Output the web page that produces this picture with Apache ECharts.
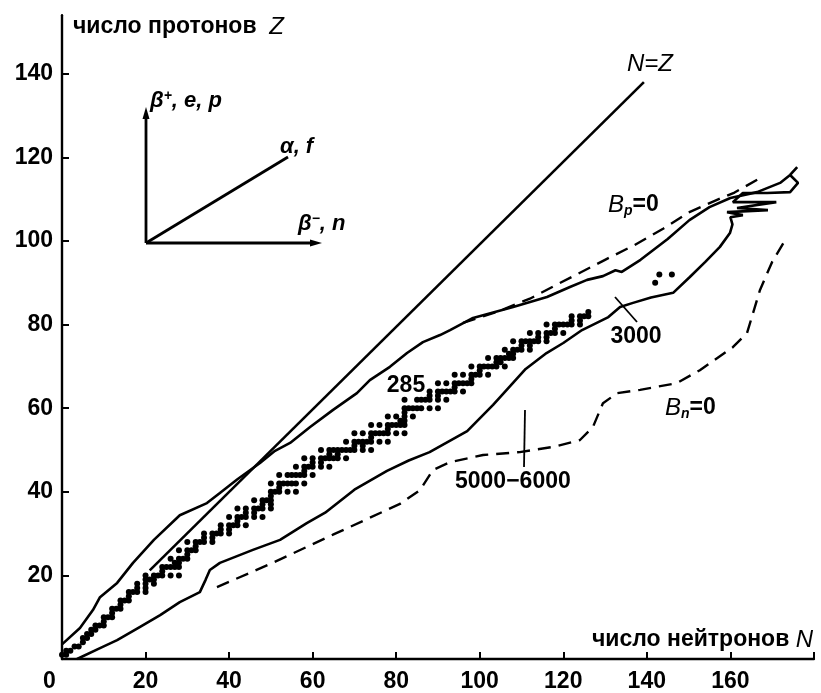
<!DOCTYPE html>
<html>
<head>
<meta charset="utf-8">
<script src="https://cdn.jsdelivr.net/npm/echarts@6/dist/echarts.min.js"></script>
<style>
html,body{margin:0;padding:0;background:#fff;}
#chart{width:821px;height:693px;}
</style>
</head>
<body>
<div id="chart"></div>
<script>
// ---- data (N = neutron number, Z = proton number) ----
const xTickValues = [20, 40, 60, 80, 100, 120, 140, 160];
const yTickValues = [20, 40, 60, 80, 100, 120, 140];

// Upper solid boundary of known nuclides (proton-rich side)
const upperBoundary = [[0,3.5],[4.3,7.4],[7.4,11.7],[9.1,14.8],[13.2,18.2],[17,23],[22,28.5],[28.2,34.4],[34.7,37.3],[37.8,39.7],[42,43],[47.4,46.9],[51,49.8],[54.6,51.7],[59.4,55.5],[64.9,59.6],[70.6,63.6],[73.7,66.7],[78.5,69.9],[82.6,73.2],[86.4,75.8],[90.5,77.5],[92.9,78.7],[98.4,81.6],[108,84.2],[116.1,86.6],[121.6,89],[125.7,90.7],[129.5,91.6],[132.5,93],[134,92.6],[138.5,95.5],[145,100.5],[150.2,105],[155,108.1],[160,110.3],[166.4,111.7],[171.9,113.9],[174.3,115.8],[176,117.7]];

// Lower solid boundary of known nuclides (neutron-rich side, "3000")
const lowerBoundary = [[3.6,0],[9.1,2.6],[13.2,4.5],[18.7,7.7],[23.5,10.5],[28.2,13.6],[33,16],[34.4,19],[35.4,21.3],[37.8,23],[45.7,26.1],[52.2,28.5],[58.6,32.5],[63,35],[70,40.5],[77.8,45],[83,47.5],[88,49.5],[97,54.5],[103.2,60.8],[107,65],[111,69.4],[116,73.2],[120,75.6],[124.5,78.7],[130.8,81.8],[133.6,84.2],[136.7,85.2],[141,86.5],[146.3,87.6],[150.3,91.4],[154,95],[157.5,98.6],[159.9,101.9],[160.5,104],[160,105.7],[163,106.2],[159.2,106.9],[169,107.4],[161.6,107.9],[171,109.3],[160.6,109.3],[163,111.5],[168.8,111.5],[174.3,111.7],[176.2,113.9],[174.3,115.8]];

// N = Z line
const nEqualsZ = [[21,21.2],[139.3,138]];

// Proton drip line B_p = 0 (dashed)
const protonDrip = [[96,80.4],[104,83],[112,86.2],[118.5,89.6],[123.2,92],[130,95.5],[137,99],[144,103],[150.2,106.9],[156,109.5],[161,111.6],[167,115]];

// Neutron drip line B_n = 0 (dashed)
const neutronDrip = [[37.1,17.2],[50,22.8],[65,29.8],[80.9,37.1],[85.7,40.4],[88.8,45.2],[92.9,47.1],[100.8,48.8],[109.6,49.5],[118,50.8],[124,52.4],[127.1,55.5],[129.5,61.2],[132.9,63.6],[138.4,64.4],[147.2,66],[152.7,69.1],[160.6,74.6],[164,78],[167.1,88.3],[170,95],[173.6,101]];

// Stable nuclides: [Z, list of N]
const stableNuclides = [
 [1,[0,1]],[2,[1,2]],[3,[3,4]],[4,[5]],[5,[5,6]],[6,[6,7]],[7,[7,8]],[8,[8,9,10]],[9,[10]],[10,[10,11,12]],
 [11,[12]],[12,[12,13,14]],[13,[14]],[14,[14,15,16]],[15,[16]],[16,[16,17,18,20]],[17,[18,20]],[18,[18,20,22]],
 [19,[20,21,22]],[20,[20,22,23,24,26,28]],[21,[24]],[22,[24,25,26,27,28]],[23,[27,28]],[24,[26,28,29,30]],
 [25,[30]],[26,[28,30,31,32]],[27,[32]],[28,[30,32,33,34,36]],[29,[34,36]],[30,[34,36,37,38,40]],[31,[38,40]],
 [32,[38,40,41,42,44]],[33,[42]],[34,[40,42,43,44,46,48]],[35,[44,46]],[36,[42,44,46,47,48,50]],[37,[48,50]],
 [38,[46,48,49,50]],[39,[50]],[40,[50,51,52,54,56]],[41,[52]],[42,[50,52,53,54,55,56,58]],[44,[52,54,55,56,57,58,60]],
 [45,[58]],[46,[56,58,59,60,62,64]],[47,[60,62]],[48,[58,60,62,63,64,65,66,68]],[49,[64,66]],
 [50,[62,64,65,66,67,68,69,70,72,74]],[51,[70,72]],[52,[68,70,71,72,73,74,76,78]],[53,[74]],
 [54,[70,72,74,75,76,77,78,80,82]],[55,[78]],[56,[74,76,78,79,80,81,82]],[57,[81,82]],[58,[78,80,82,84]],
 [59,[82]],[60,[82,83,84,85,86,88,90]],[62,[82,85,86,87,88,90,92]],[63,[88,90]],[64,[88,90,91,92,93,94,96]],
 [65,[94]],[66,[90,92,94,95,96,97,98]],[67,[98]],[68,[94,96,98,99,100,102]],[69,[100]],
 [70,[98,100,101,102,103,104,106]],[71,[104,105]],[72,[102,104,105,106,107,108]],[73,[107,108]],
 [74,[106,108,109,110,112]],[75,[110,112]],[76,[108,110,111,112,113,114,116]],[77,[114,116]],
 [78,[112,114,116,117,118,120]],[79,[118]],[80,[116,118,119,120,121,122,124]],[81,[122,124]],
 [82,[122,124,125,126]],[83,[126]],[90,[142]],[92,[143,146]]
];

// ---- build ----
const stablePoints = [];
stableNuclides.forEach(function (row) {
  row[1].forEach(function (n) { stablePoints.push([n, row[0]]); });
});

const FONT = "'Liberation Sans', Arial, Helvetica, sans-serif";
const INK = '#000';
const chart = echarts.init(document.getElementById('chart'), null, {renderer: 'canvas'});

function solid(name, data) {
  return {name: name, type: 'line', data: data, showSymbol: false, symbol: 'none', silent: true,
    lineStyle: {color: INK, width: 2.6}, z: 3};
}
function dashed(name, data) {
  return {name: name, type: 'line', data: data, showSymbol: false, symbol: 'none', silent: true,
    lineStyle: {color: INK, width: 2.4, type: [13, 8]}, z: 3};
}
function txt(x, y, text, rich, align, valign) {
  return {type: 'text', x: x, y: y, silent: true,
    style: {text: text, rich: rich || {}, fill: INK, font: 'bold 23px ' + FONT,
      align: align || 'left', verticalAlign: valign || 'middle'}};
}
function seg(x1, y1, x2, y2, w) {
  return {type: 'line', silent: true, shape: {x1: x1, y1: y1, x2: x2, y2: y2},
    style: {stroke: INK, lineWidth: w || 2.8}};
}

const it = {font: 'italic 24px ' + FONT, fill: INK};
const up = {font: 'bold 23px ' + FONT, fill: INK};
const sub = {font: 'italic bold 14px ' + FONT, fill: INK, verticalAlign: 'bottom', padding: [12, 0, 0, 0]};
const itS = {font: 'italic bold 22px ' + FONT, fill: INK};
const sup = {font: 'italic bold 14px ' + FONT, fill: INK, verticalAlign: 'top', padding: [0, 0, 10, 0]};

chart.setOption({
  animation: false,
  backgroundColor: '#fff',
  grid: {left: 62, top: 15.3, width: 751.9, height: 643.7, containLabel: false},
  xAxis: {
    type: 'value', min: 0, max: 180,
    axisLine: {show: true, lineStyle: {color: INK, width: 2.4}},
    axisTick: {show: true, inside: true, length: 7, customValues: [20,40,60,80,100,120,140,160,180], lineStyle: {color: INK, width: 2}},
    axisLabel: {customValues: xTickValues, color: INK, fontSize: 23, fontWeight: 'bold', fontFamily: FONT, margin: 11},
    splitLine: {show: false}
  },
  yAxis: {
    type: 'value', min: 0, max: 154,
    axisLine: {show: true, lineStyle: {color: INK, width: 2.4}},
    axisTick: {show: true, inside: true, length: 7, customValues: yTickValues, lineStyle: {color: INK, width: 2}},
    axisLabel: {customValues: yTickValues, color: INK, fontSize: 23, fontWeight: 'bold', fontFamily: FONT, margin: 9},
    splitLine: {show: false}
  },
  series: [
    solid('upper', upperBoundary),
    solid('lower', lowerBoundary),
    solid('N=Z', nEqualsZ),
    dashed('Bp=0', protonDrip),
    dashed('Bn=0', neutronDrip),
    {name: 'stable', type: 'scatter', data: stablePoints, symbol: 'circle', symbolSize: 6,
      itemStyle: {color: INK, opacity: 1}, silent: true, z: 4}
  ],
  graphic: [
    // axis captions
    txt(73, 27, '{a|число протонов  }{b|Z}', {a: up, b: it}),
    txt(813, 640, '{a|число нейтронов }{b|N}', {a: up, b: it}, 'right'),
    txt(43, 682, '0'),
    // inset diagram
    seg(146, 243, 146, 116), seg(146, 243, 313, 243), seg(146, 243, 288, 157),
    {type: 'polygon', silent: true, shape: {points: [[146, 107], [142.5, 119], [149.5, 119]]}, style: {fill: INK}},
    {type: 'polygon', silent: true, shape: {points: [[322, 243], [310, 239.5], [310, 246.5]]}, style: {fill: INK}},
    txt(150, 101, '{a|β}{s|+}{a|, e, p}', {a: itS, s: sup}),
    txt(280, 147, '{a|α, f}', {a: itS}),
    txt(298, 224, '{a|β}{s|−}{a|, n}', {a: itS, s: sup}),
    // curve annotations
    txt(650, 64, '{a|N=Z}', {a: it}, 'center'),
    txt(608, 205, '{a|B}{s|p}{b|=0}', {a: it, s: sub, b: up}),
    txt(665, 408, '{a|B}{s|n}{b|=0}', {a: it, s: sub, b: up}),
    txt(636, 337, '3000', null, 'center'),
    txt(406, 386, '285', null, 'center'),
    txt(455, 482, '5000−6000'),
    seg(615, 297, 637, 322, 1.8),
    seg(525, 410, 524, 467, 1.8)
  ]
});
</script>
</body>
</html>
